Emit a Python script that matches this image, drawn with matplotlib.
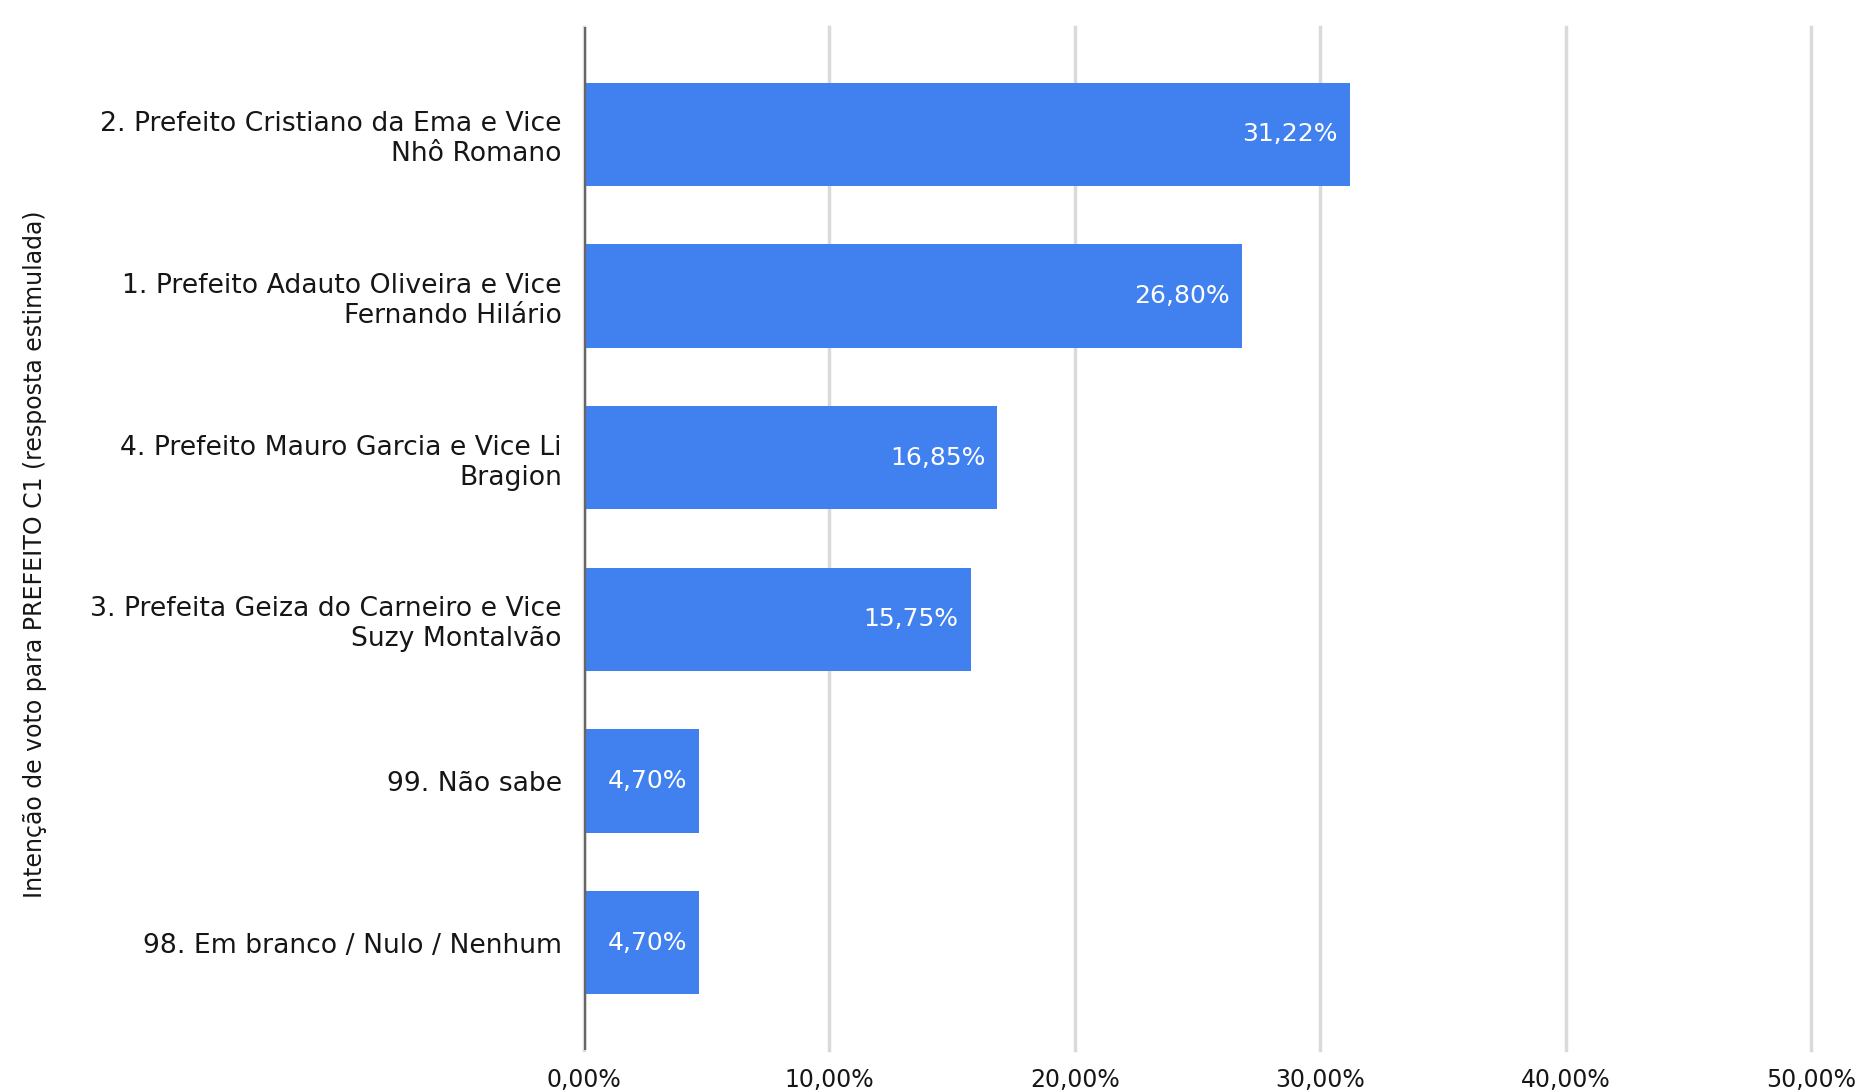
import matplotlib
matplotlib.use("Agg")
import matplotlib.pyplot as plt
from matplotlib.ticker import FuncFormatter

categories = [
    "2. Prefeito Cristiano da Ema e Vice\nNhô Romano",
    "1. Prefeito Adauto Oliveira e Vice\nFernando Hilário",
    "4. Prefeito Mauro Garcia e Vice Li\nBragion",
    "3. Prefeita Geiza do Carneiro e Vice\nSuzy Montalvão",
    "99. Não sabe",
    "98. Em branco / Nulo / Nenhum",
]
values = [31.22, 26.80, 16.85, 15.75, 4.70, 4.70]
x_ticks = [0, 10, 20, 30, 40, 50]
y_title = "Intenção de voto para PREFEITO C1 (resposta estimulada)"

plt.rcParams['font.family'] = ['DejaVu Sans']

W, H = 1856, 1091
fig = plt.figure(figsize=(W / 100, H / 100), dpi=100)
left, right, top, bottom = 584, 1811, 27, 1050
ax = fig.add_axes([left / W, 1 - bottom / H, (right - left) / W, (bottom - top) / H])

bar_color = '#4081ef'
pos = list(range(len(categories)))
bars = ax.barh(pos, values, height=0.64, color=bar_color, zorder=3)

ax.set_xlim(0, 50)
ax.set_ylim(len(categories) - 1 + 0.665, -0.665)

ax.set_xticks(x_ticks)
ax.xaxis.set_major_formatter(FuncFormatter(lambda v, p: f"{v:.2f}".replace('.', ',') + "%"))
ax.tick_params(axis='x', length=0, pad=13, labelsize=17, labelcolor='#161616')
ax.set_yticks(pos)
ax.set_yticklabels(categories, fontsize=19.2, color='#161616', linespacing=1.2)
for t in ax.get_yticklabels():
    t.set_horizontalalignment('right')
    t.set_multialignment('right')
ax.tick_params(axis='y', length=0, pad=16)

ax.grid(axis='x', color='#dadada', linewidth=2.5, zorder=0)
for l in ax.get_xgridlines():
    l.set_clip_on(False)
for s in ax.spines.values():
    s.set_visible(False)
ax.axvline(0, color='#666666', linewidth=2.5, zorder=4)

for b, v in zip(bars, values):
    ax.text(v - 0.5, b.get_y() + b.get_height() / 2, f"{v:.2f}".replace('.', ',') + "%",
            ha='right', va='center', color='white', fontsize=18, zorder=5)

fig.text(35 / W, 1 - 554 / H, y_title, rotation=90, ha='center', va='center',
         fontsize=17, color='#161616')

fig.savefig("out.png", dpi=100)
